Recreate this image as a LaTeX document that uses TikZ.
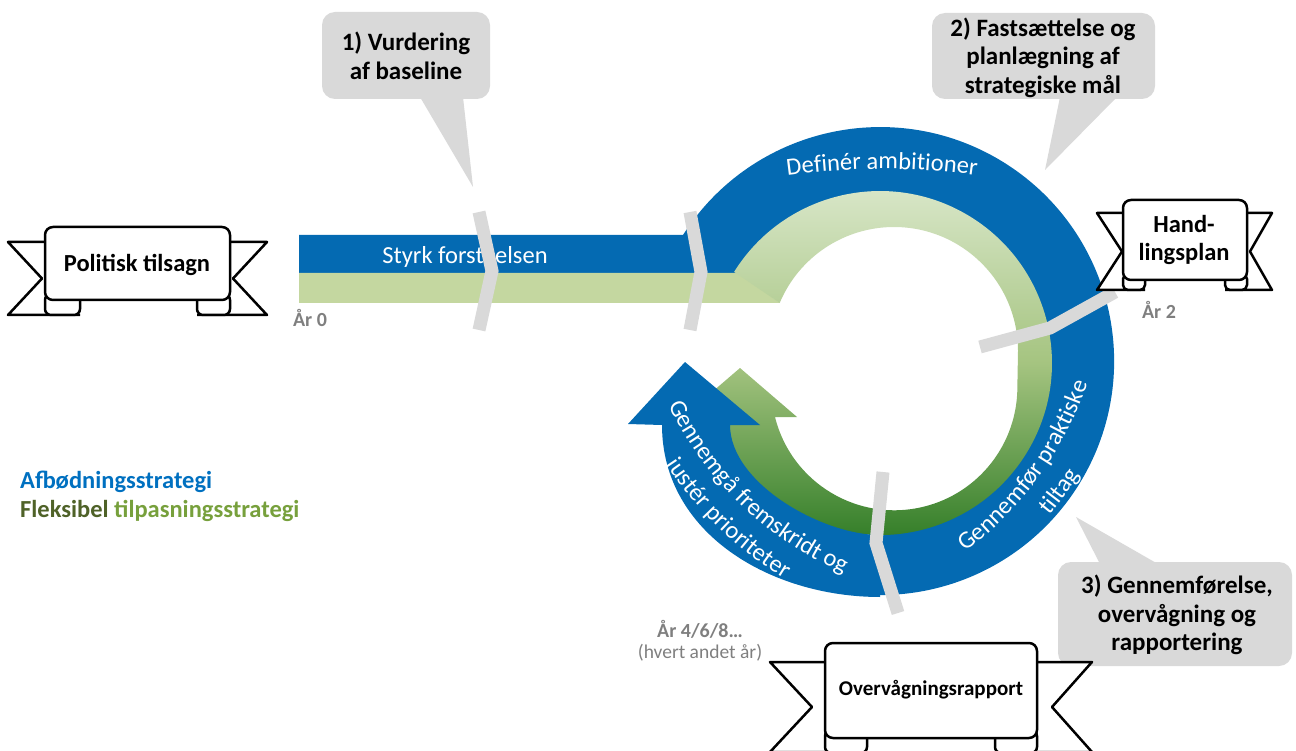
\documentclass[tikz,border=0pt]{standalone}
\usepackage{fontspec}
\setmainfont{Carlito}
\usetikzlibrary{decorations.text}
\definecolor{ringblue}{RGB}{4,106,178}
\definecolor{legblue}{RGB}{0,112,192}
\definecolor{barlgreen}{RGB}{196,215,160}
\definecolor{callgray}{RGB}{217,217,217}
\definecolor{chevgray}{RGB}{217,217,217}
\definecolor{labgray}{RGB}{127,127,127}
\definecolor{gtop}{RGB}{222,234,208}
\definecolor{gmid}{RGB}{165,196,128}
\definecolor{gbot}{RGB}{38,118,30}
\definecolor{darkolive}{RGB}{79,98,40}
\definecolor{olivegreen}{RGB}{119,160,60}
\newcommand{\ringfont}{\fontsize{24.5}{29}\selectfont}
\begin{document}
\begin{tikzpicture}[x=1pt,y=1pt,
  ribbonshape/.style={draw=black,line width=2.5pt,fill=white,line join=round},
  chev/.style={draw=chevgray,line width=13pt,line join=miter},
  callbox/.style={fill=callgray},
  calltext/.style={font=\fontsize{25}{28.5}\selectfont\bfseries,align=center,inner sep=0pt,text=black},
  bantext/.style={font=\fontsize{24.5}{28.5}\selectfont\bfseries,align=center,inner sep=0pt,text=black},
  yeartext/.style={font=\fontsize{20}{24}\selectfont\bfseries,text=labgray,inner sep=0pt},
  ringtext/.style={font=\ringfont,text=white,inner sep=0pt},
  legendtext/.style={font=\fontsize{24.5}{29}\selectfont\bfseries,anchor=base west,inner sep=0pt}]
\useasboundingbox (0,0) rectangle (1296,-751);
\clip (0,0) rectangle (1296,-751);

% blue ring with bar
\fill[ringblue] (299,-235) -- (683,-235) arc[start angle=147.4,end angle=-90,radius=234pt]
  -- (880,-526) arc[start angle=-90,end angle=150,radius=165pt] -- (299,-273) -- cycle;
% green bar
\fill[barlgreen] (299,-273) -- (738,-273) -- (780,-303) -- (299,-303) -- cycle;
% green spiral arrow
\shade[top color=gtop,bottom color=gbot,middle color=gmid]
  (734.1,-271.9) arc[start angle=148,end angle=-155,radius=172pt]
  -- (705,-417) -- (683,-417) -- (740,-368) -- (797,-417) -- (775,-417)
  arc[start angle=194,end angle=360,radius=123pt]
  -- (1018,-351) arc[start angle=0,end angle=157.2,radius=124pt] -- cycle;
% blue arrow (lower left)
\fill[ringblue] (880,-597) to[out=180,in=-90] (662,-425) -- (628,-424) -- (685,-362)
  -- (760,-425) -- (730,-425) to[out=-90,in=180,looseness=0.8] (880,-535) -- cycle;

% texts on the blue band
\node[ringtext] (styrk) at (465,-257) {Styrk forståelsen};
\path[decorate,decoration={text along path,text align=center,text color=white,
  text={|\ringfont|Definér ambitioner}}]
  ([shift={(106:700pt)}]882,-869) arc[start angle=106,end angle=74,radius=700pt];
\path[decorate,decoration={text along path,text align=center,text color=white,
  text={|\ringfont|Gennemfør praktiske}}]
  ([shift={(-66:349pt)}]757,-271.7) arc[start angle=-66,end angle=-6,radius=349pt];
\path[decorate,decoration={text along path,text align=center,text color=white,
  text={|\ringfont|tiltag}}]
  ([shift={(-66:381pt)}]757,-271.7) arc[start angle=-66,end angle=-6,radius=381pt];
\path[decorate,decoration={text along path,text align=center,text color=white,
  text={|\ringfont|Gennemgå fremskridt og}}]
  ([shift={(196:347pt)}]982.1,-255.3) arc[start angle=196,end angle=256,radius=347pt];
\path[decorate,decoration={text along path,text align=center,text color=white,
  text={|\ringfont|justér prioriteter}}]
  ([shift={(196:379pt)}]982.1,-255.3) arc[start angle=196,end angle=256,radius=379pt];

% chevrons
\draw[chev] (479,-212) -- (492,-271) -- (479,-330);
\draw[chev] (690,-212) -- (701,-272) -- (690,-330);
\draw[chev] (980,-347) -- (1050,-328) -- (1115,-292);
\draw[chev] (883,-472) -- (876,-543) -- (898,-613);

% callouts
\fill[callbox,rounded corners=13pt] (322,-12) rectangle (490,-99);
\fill[callbox] (420,-97) -- (463,-97) -- (473,-187) -- cycle;
\fill[callbox,rounded corners=13pt] (932,-13) rectangle (1155,-99);
\fill[callbox] (1060,-97) -- (1117,-97) -- (1045,-170) -- cycle;
\fill[callbox,rounded corners=13pt] (1058,-562) rectangle (1292,-666);
\fill[callbox] (1100,-564) -- (1158,-564) -- (1076,-517) -- cycle;
\node[calltext] (c1) at (406,-56) {1) Vurdering\\af baseline};
\node[calltext] (c2) at (1043,-57.5) {2) Fastsættelse og\\planlægning af\\strategiske mål};
\node[calltext] (c3) at (1177,-615) {3) Gennemførelse,\\overvågning og\\rapportering};

% ribbon: Politisk tilsagn
\draw[ribbonshape] (45,-242) -- (8,-242) -- (42,-278.5) -- (8,-315) -- (80,-315);
\draw[ribbonshape] (230,-242) -- (267,-242) -- (233,-278.5) -- (267,-315) -- (197,-315);
\draw[ribbonshape,rounded corners=6pt] (45,-294) rectangle (80,-315);
\draw[ribbonshape,rounded corners=6pt] (197,-294) rectangle (230,-315);
\draw[ribbonshape,rounded corners=8pt] (45,-227) rectangle (230,-300);
\node[bantext] (pol) at (137,-265) {Politisk tilsagn};

% ribbon: Handlingsplan
\draw[ribbonshape] (1123,-213) -- (1097,-213) -- (1122,-251.5) -- (1097,-290) -- (1145,-290);
\draw[ribbonshape] (1247,-213) -- (1272,-213) -- (1250,-251.5) -- (1272,-290) -- (1225,-290);
\draw[ribbonshape,rounded corners=5pt] (1123,-274) rectangle (1145,-290);
\draw[ribbonshape,rounded corners=5pt] (1225,-274) rectangle (1247,-290);
\draw[ribbonshape,rounded corners=8pt] (1123,-200) rectangle (1247,-280);
\node[bantext] (hand) at (1184,-240) {Hand-\\lingsplan};

% ribbon: Overvaagningsrapport
\draw[ribbonshape] (825,-662) -- (770,-662) -- (812,-707) -- (770,-752) -- (867,-752);
\draw[ribbonshape] (1037,-662) -- (1092,-662) -- (1052,-707) -- (1092,-752) -- (995,-752);
\draw[ribbonshape,rounded corners=6pt] (825,-730) rectangle (867,-753);
\draw[ribbonshape,rounded corners=6pt] (995,-730) rectangle (1037,-753);
\draw[ribbonshape,rounded corners=8pt] (825,-643) rectangle (1037,-738);
\node[font=\fontsize{21}{25}\selectfont\bfseries,inner sep=0pt] (ovr) at (931,-690) {Overvågningsrapport};

% year labels
\node[yeartext] (ar0) at (310,-318) {År 0};
\node[yeartext] (ar2) at (1159,-310) {År 2};
\node[yeartext] (ar4) at (700,-629) {År 4/6/8…};
\node[font=\fontsize{19.5}{23}\selectfont,text=labgray,inner sep=0pt] (hvert) at (700,-653) {(hvert andet år)};

% legend
\node[legendtext,text=legblue] (leg1) at (20,-488) {Afbødningsstrategi};
\node[legendtext] (leg2) at (20,-517) {\textcolor{darkolive}{Fleksibel} \textcolor{olivegreen}{tilpasningsstrategi}};
\end{tikzpicture}
\end{document}
